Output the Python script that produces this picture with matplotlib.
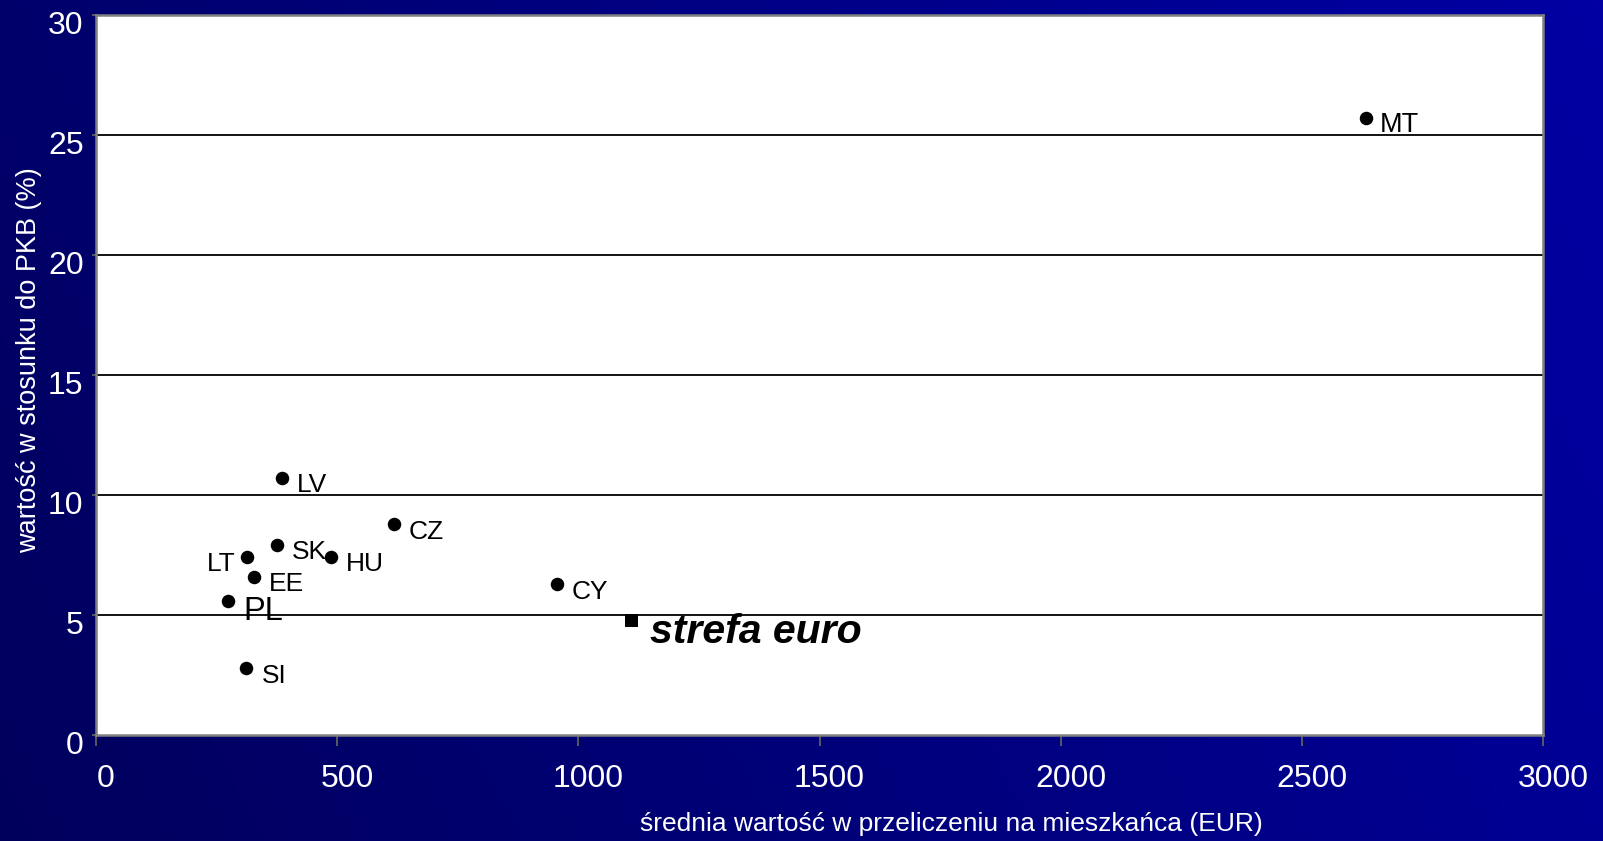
import numpy as np
import matplotlib
matplotlib.use("Agg")
import matplotlib.pyplot as plt
from matplotlib.transforms import ScaledTranslation

plt.rcParams['font.family'] = ['Liberation Sans', 'DejaVu Sans']

# Data
countries = ['MT', 'LV', 'CZ', 'SK', 'LT', 'HU', 'EE', 'PL', 'SI', 'CY']
per_capita = [2633, 385, 618, 375, 314, 487, 328, 274, 312, 956]
pct_gdp = [25.7, 10.7, 8.8, 7.9, 7.4, 7.4, 6.6, 5.6, 2.8, 6.3]
euro_label = 'strefa euro'
euro_x = [1110]
euro_y = [4.8]
xticks = [0, 500, 1000, 1500, 2000, 2500, 3000]
yticks = [0, 5, 10, 15, 20, 25, 30]
xlabel = 'średnia wartość w przeliczeniu na mieszkańca (EUR)'
ylabel = 'wartość w stosunku do PKB (%)'

# label offsets in pixels (dx, dy) and alignment
label_style = {
    'MT': (14, -7, 'left', 19.5),
    'LV': (15, -7, 'left', 19),
    'CZ': (15, -8, 'left', 19),
    'SK': (15, -7, 'left', 19),
    'LT': (-12, -7, 'right', 19),
    'HU': (15, -7, 'left', 19),
    'EE': (15, -7, 'left', 19),
    'PL': (15, -11, 'left', 23.5),
    'SI': (15, -8, 'left', 19),
    'CY': (15, -8, 'left', 19),
}

W, H = 1603, 841
fig = plt.figure(figsize=(W / 100, H / 100), dpi=100)

# background gradient
bg = fig.add_axes([0, 0, 1, 1], zorder=-10)
gx = np.linspace(0, 1, 400)
gy = np.linspace(0, 1, 200)
GX, GY = np.meshgrid(gx, gy)
blue = 0.36 + 0.22 * GX + 0.06 * GY
img = np.zeros((200, 400, 3))
img[..., 2] = blue
bg.imshow(img, origin='lower', extent=[0, 1, 0, 1], aspect='auto')
bg.axis('off')

left, right = 96 / W, 1543 / W
bottom, top = 1 - 735 / H, 1 - 15 / H
ax = fig.add_axes([left, bottom, right - left, top - bottom])
ax.set_facecolor('white')
ax.set_xlim(0, 3000)
ax.set_ylim(0, 30)
ax.set_xticks(xticks)
ax.set_yticks(yticks)
ax.set_xticklabels([str(t) for t in xticks])
ax.set_yticklabels([str(t) for t in yticks])

for g in yticks[1:-1]:
    ax.axhline(g, color='black', lw=1.3, zorder=1)

for s in ax.spines.values():
    s.set_color('#808080')
    s.set_linewidth(1.8)

ax.tick_params(axis='x', direction='out', length=8, width=1.3, color='#606060',
               labelsize=23, labelcolor='white', pad=13)
ax.tick_params(axis='y', direction='out', length=3, width=1.3, color='#606060',
               labelsize=23, labelcolor='white', pad=6)

for lab in ax.get_xticklabels():
    lab.set_transform(lab.get_transform() + ScaledTranslation(10 / 100, 0, fig.dpi_scale_trans))
for lab in ax.get_yticklabels():
    lab.set_transform(lab.get_transform() + ScaledTranslation(0, -8 / 100, fig.dpi_scale_trans))

ax.scatter(per_capita, pct_gdp, s=(13.5 * 0.72) ** 2, color='black', marker='o', zorder=3,
           linewidths=0)
ax.scatter(euro_x, euro_y, s=(13 * 0.72) ** 2, color='black', marker='s', zorder=3,
           linewidths=0)

for c, xv, yv in zip(countries, per_capita, pct_gdp):
    dx, dy, ha, fs = label_style[c]
    ax.annotate(c, (xv, yv), xytext=(dx, dy), textcoords='offset pixels',
                ha=ha, va='center', fontsize=fs, color='black', zorder=4)

ax.annotate(euro_label, (euro_x[0], euro_y[0]), xytext=(19, -12), textcoords='offset pixels',
            ha='left', va='center', fontsize=29.5, fontweight='bold', fontstyle='italic',
            color='black', zorder=4)

fig.text(951 / W, 1 - 824 / H, xlabel, ha='center', va='center', fontsize=19, color='white')
fig.text(28.6 / W, 1 - 360 / H, ylabel, ha='center', va='center', rotation=90,
         fontsize=19.5, color='white')

fig.savefig('out.png', dpi=100)
